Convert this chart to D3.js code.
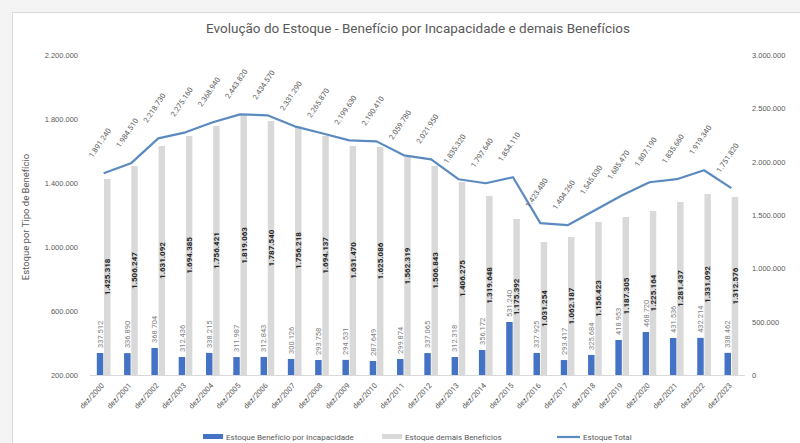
<!DOCTYPE html>
<html>
<head>
<meta charset="utf-8">
<script src="https://cdn.jsdelivr.net/npm/d3@7"></script>
<style>
  html, body { margin: 0; padding: 0; background: #ffffff; }
  svg { display: block; font-family: Roboto, "Liberation Sans", Arial, sans-serif; }
</style>
</head>
<body>
<svg id="chart" width="800" height="443"></svg>
<script>
// Stock at year end, by benefit type
const categories = [
  "dez/2000", "dez/2001", "dez/2002", "dez/2003", "dez/2004", "dez/2005",
  "dez/2006", "dez/2007", "dez/2008", "dez/2009", "dez/2010", "dez/2011",
  "dez/2012", "dez/2013", "dez/2014", "dez/2015", "dez/2016", "dez/2017",
  "dez/2018", "dez/2019", "dez/2020", "dez/2021", "dez/2022", "dez/2023"
];
const estoqueIncapacidade = [
  337512, 336890, 368704, 312436, 338215, 311987,
  312843, 300126, 293758, 294531, 287649, 299874,
  337065, 312318, 356172, 531240, 337925, 293417,
  325684, 418953, 468720, 431536, 432214, 338462
];
const estoqueDemais = [
  1425318, 1506247, 1631092, 1694385, 1756421, 1819063,
  1787540, 1756218, 1694137, 1631470, 1625086, 1562319,
  1506843, 1406275, 1319648, 1175392, 1031254, 1062187,
  1156423, 1187305, 1225164, 1281437, 1331092, 1312576
];
const estoqueTotal = [
  1891240, 1984510, 2218730, 2275160, 2368940, 2443820,
  2434570, 2331290, 2265870, 2199630, 2190410, 2059780,
  2021950, 1835320, 1797640, 1854110, 1423480, 1404260,
  1545030, 1685470, 1807190, 1835660, 1919340, 1751820
];
const leftTicks = [200000, 600000, 1000000, 1400000, 1800000, 2200000];
const rightTicks = [0, 500000, 1000000, 1500000, 2000000, 2500000, 3000000];
const seriesNames = [
  "Estoque Benefício por Incapacidade",
  "Estoque demais Benefícios",
  "Estoque Total"
];
const titleText = "Evolução do Estoque - Benefício por Incapacidade e demais Benefícios";
const leftAxisTitle = "Estoque por Tipo de Benefício";

const colors = { inc: "#4472c4", demais: "#d9d9d9", total: "#5b8ac0", text: "#595959" };

const locale = d3.formatLocale({ decimal: ",", thousands: ".", grouping: [3], currency: ["R$ ", ""] });
const fmt = locale.format(",d");

const svg = d3.select("#chart");
const W = 800, H = 443;
const plot = { left: 90, right: 745, top: 55, bottom: 375 };

// chart frame
svg.append("rect").attr("x", 0).attr("y", 0).attr("width", W).attr("height", H).attr("fill", "#f4f4f4");
svg.append("rect").attr("x", 12.5).attr("y", 12.5).attr("width", W - 10).attr("height", H)
  .attr("fill", "#ffffff").attr("stroke", "#d9d9d9");

// scales
const x0 = d3.scaleBand().domain(categories).range([plot.left, plot.right])
  .paddingInner(0.5).paddingOuter(0.25);
const x1 = d3.scaleBand().domain(["inc", "demais"]).range([0, x0.bandwidth()]).paddingInner(0.1);
const yL = d3.scaleLinear().domain([leftTicks[0], leftTicks[leftTicks.length - 1]]).range([plot.bottom, plot.top]);
const yR = d3.scaleLinear().domain([rightTicks[0], rightTicks[rightTicks.length - 1]]).range([plot.bottom, plot.top]);

// title
svg.append("text").attr("x", 418).attr("y", 33).attr("text-anchor", "middle")
  .attr("font-size", 13.5).attr("fill", colors.text).text(titleText);

// left axis
const axL = svg.append("g").attr("transform", `translate(${plot.left - 10},0)`)
  .call(d3.axisLeft(yL).tickValues(leftTicks).tickFormat(fmt).tickSize(0).tickPadding(2));
axL.select(".domain").remove();
axL.selectAll("text").attr("fill", colors.text).attr("font-size", 7.5);

// right axis
const axR = svg.append("g").attr("transform", `translate(${plot.right + 5},0)`)
  .call(d3.axisRight(yR).tickValues(rightTicks).tickFormat(fmt).tickSize(0).tickPadding(2));
axR.select(".domain").remove();
axR.selectAll("text").attr("fill", colors.text).attr("font-size", 7.5);

// left axis title
svg.append("text").attr("transform", `translate(29,${(plot.top + plot.bottom) / 2 + 2}) rotate(-90)`)
  .attr("text-anchor", "middle").attr("font-size", 9.5).attr("fill", colors.text).text(leftAxisTitle);

// category axis line
svg.append("line").attr("x1", plot.left).attr("x2", plot.right)
  .attr("y1", plot.bottom + 0.5).attr("y2", plot.bottom + 0.5).attr("stroke", "#d9d9d9");

// category labels
svg.append("g").selectAll("text").data(categories).join("text")
  .attr("transform", d => `translate(${x0(d) + x0.bandwidth() / 2 + 1},${plot.bottom + 11}) rotate(-47)`)
  .attr("text-anchor", "end").attr("font-size", 7.5).attr("fill", colors.text).text(d => d);

// bars
const groups = svg.append("g").selectAll("g").data(categories).join("g")
  .attr("transform", d => `translate(${x0(d)},0)`);

groups.append("rect")
  .attr("x", x1("inc")).attr("width", x1.bandwidth())
  .attr("y", (d, i) => yL(estoqueIncapacidade[i]))
  .attr("height", (d, i) => yL(leftTicks[0]) - yL(estoqueIncapacidade[i]))
  .attr("fill", colors.inc);

groups.append("rect")
  .attr("x", x1("demais")).attr("width", x1.bandwidth())
  .attr("y", (d, i) => yL(estoqueDemais[i]))
  .attr("height", (d, i) => yL(leftTicks[0]) - yL(estoqueDemais[i]))
  .attr("fill", colors.demais);

// value labels: demais (centered in bar)
groups.append("text")
  .attr("transform", (d, i) => {
    const cx = x1("demais") + x1.bandwidth() / 2;
    const cy = (yL(estoqueDemais[i]) + yL(leftTicks[0])) / 2;
    return `translate(${cx},${cy}) rotate(-90)`;
  })
  .attr("text-anchor", "middle").attr("dy", "0.35em")
  .attr("font-size", 8).attr("font-weight", "bold").attr("fill", "#262626")
  .text((d, i) => fmt(estoqueDemais[i]));

// value labels: incapacidade (above bar)
groups.append("text")
  .attr("transform", (d, i) => {
    const cx = x1("inc") + x1.bandwidth() / 2;
    return `translate(${cx},${yL(estoqueIncapacidade[i]) - 5}) rotate(-90)`;
  })
  .attr("text-anchor", "start").attr("dy", "0.35em")
  .attr("font-size", 7.5).attr("fill", "#7f7f7f")
  .text((d, i) => fmt(estoqueIncapacidade[i]));

// total line
const cxOf = (d) => x0(d) + x0.bandwidth() / 2;
const line = d3.line().x((d, i) => cxOf(categories[i])).y(d => yR(d));
svg.append("path").datum(estoqueTotal).attr("d", line)
  .attr("fill", "none").attr("stroke", colors.total).attr("stroke-width", 2.2)
  .attr("stroke-linejoin", "round");

svg.append("g").selectAll("text").data(estoqueTotal).join("text")
  .attr("transform", (d, i) => `translate(${cxOf(categories[i]) - 11},${yR(d) - 15}) rotate(-56)`)
  .attr("text-anchor", "start").attr("font-size", 7.5).attr("fill", colors.text)
  .text(d => fmt(d));

// legend
const legY = 437;
const leg = svg.append("g");
leg.append("rect").attr("x", 203).attr("y", legY - 3).attr("width", 20).attr("height", 5).attr("fill", colors.inc);
leg.append("text").attr("x", 226).attr("y", legY).attr("dy", "0.35em").attr("font-size", 8)
  .attr("fill", colors.text).text(seriesNames[0]);
leg.append("rect").attr("x", 382).attr("y", legY - 3).attr("width", 20).attr("height", 5).attr("fill", colors.demais);
leg.append("text").attr("x", 405).attr("y", legY).attr("dy", "0.35em").attr("font-size", 8)
  .attr("fill", colors.text).text(seriesNames[1]);
leg.append("line").attr("x1", 557).attr("x2", 580).attr("y1", legY).attr("y2", legY)
  .attr("stroke", colors.total).attr("stroke-width", 2.2);
leg.append("text").attr("x", 583).attr("y", legY).attr("dy", "0.35em").attr("font-size", 8)
  .attr("fill", colors.text).text(seriesNames[2]);
</script>
</body>
</html>
